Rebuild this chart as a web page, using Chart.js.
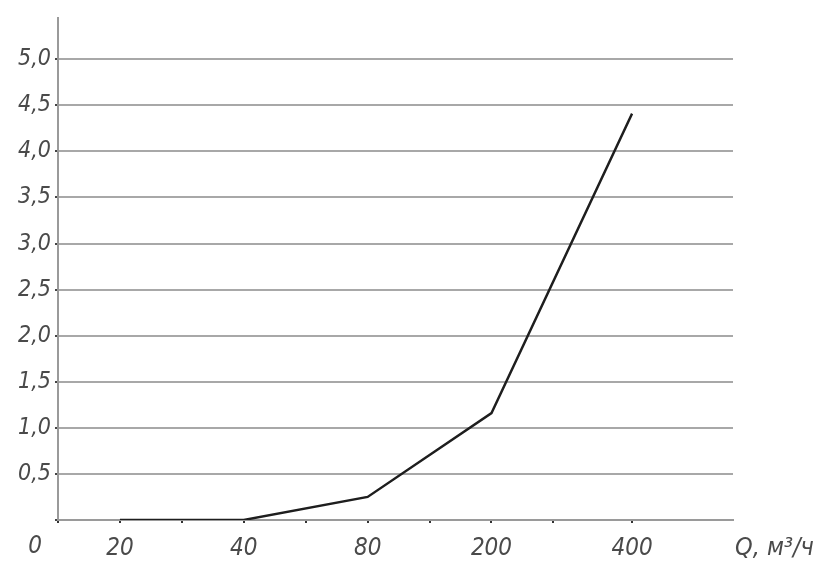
<!DOCTYPE html>
<html><head><meta charset="utf-8">
<script src="https://cdn.jsdelivr.net/npm/chart.js@4"></script>
<style>html,body{margin:0;padding:0;background:#fff}#w{width:824px;height:571px}</style>
</head><body><div id="w"><canvas id="c"></canvas></div>
<script>
// Data
const categories = ['20', '40', '80', '200', '400'];          // Q, м³/ч
const categoryPos = [1, 3, 5, 7, 9.27];                        // place of each category on the drawn axis
const seriesValues = [0, 0, 0.25, 1.16, 4.41];                 // plotted values
const xTickPos = [0, 1, 2, 3, 4, 5, 6, 7, 8, 9.27];
const yTickValues = [0, 0.5, 1.0, 1.5, 2.0, 2.5, 3.0, 3.5, 4.0, 4.5, 5.0];
const originLabel = '0';
const xAxisTitle = 'Q, м³/ч';

const FONT = "'Liberation Sans Narrow','DejaVu Sans Condensed','DejaVu Sans',sans-serif";
const TXT = '#4a4a4a';

const extras = {
  id: 'extras',
  afterDraw(chart) {
    const ctx = chart.ctx, x = chart.scales.x, y = chart.scales.y;
    ctx.save();
    ctx.fillStyle = TXT;
    ctx.font = 'italic 24px ' + FONT;
    ctx.textBaseline = 'middle';
    ctx.textAlign = 'center';
    ctx.fillText(originLabel, x.left - 23, y.bottom + 27);
    ctx.textAlign = 'left';
    ctx.font = 'italic 25px ' + FONT;
    ctx.fillText(xAxisTitle, x.right + 2, y.bottom + 28);
    ctx.restore();
  }
};

new Chart(document.getElementById('c'), {
  type: 'line',
  data: {
    datasets: [{
      data: categories.map((c, i) => ({ x: categoryPos[i], y: seriesValues[i] })),
      borderColor: '#1e1e1e',
      borderWidth: 2.4,
      pointRadius: 0,
      tension: 0,
      fill: false
    }]
  },
  options: {
    responsive: true,
    maintainAspectRatio: false,
    animation: false,
    layout: { padding: { top: 14, right: 91, left: 0, bottom: 0 } },
    plugins: { legend: { display: false }, tooltip: { enabled: false } },
    scales: {
      x: {
        type: 'linear',
        min: 0, max: 10.9,
        afterBuildTicks: s => { s.ticks = xTickPos.map(v => ({ value: v })); },
        afterFit: s => { s.height = 51; },
        border: { display: true, color: '#9a9a9a', width: 2 },
        grid: { drawOnChartArea: false, drawTicks: true, tickLength: 3, color: '#333', lineWidth: 2 },
        ticks: {
          autoSkip: false, maxRotation: 0, padding: 11,
          color: TXT,
          font: { family: FONT, size: 24, style: 'italic' },
          callback: v => { const i = categoryPos.indexOf(v); return i >= 0 ? categories[i] : ''; }
        }
      },
      y: {
        type: 'linear',
        min: 0, max: 5.45,
        afterBuildTicks: s => { s.ticks = yTickValues.map(v => ({ value: v })); },
        afterFit: s => { s.width = 58; },
        border: { display: true, color: '#9a9a9a', width: 2 },
        grid: { color: '#a8a8a8', lineWidth: 2, tickLength: 3, tickColor: '#444' },
        ticks: {
          padding: 4,
          color: TXT,
          font: { family: FONT, size: 23, style: 'italic' },
          callback: v => v === 0 ? '' : v.toFixed(1).replace('.', ',')
        }
      }
    }
  },
  plugins: [extras]
});
</script>
</body></html>
